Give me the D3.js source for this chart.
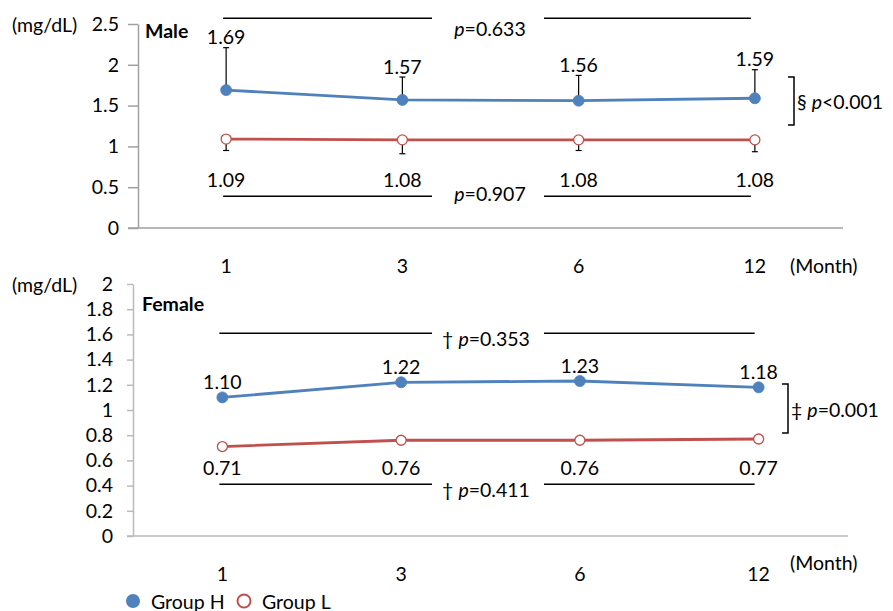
<!DOCTYPE html>
<html>
<head>
<meta charset="utf-8">
<script src="https://cdn.jsdelivr.net/npm/d3@7"></script>
<style>
  body { margin: 0; background: #fff; }
  svg { font-family: Lato, "Open Sans", sans-serif; }
</style>
</head>
<body>
<svg id="chart"></svg>
<script>
// data
const months = ['1', '3', '6', '12'];
const maleH = [1.69, 1.57, 1.56, 1.59];
const maleL = [1.09, 1.08, 1.08, 1.08];
const maleHErrTop = [2.21, 1.85, 1.87, 1.94];
const maleLErrBottom = [0.95, 0.91, 0.95, 0.935];
const femaleH = [1.10, 1.22, 1.23, 1.18];
const femaleL = [0.71, 0.76, 0.76, 0.77];
const maleTicks = [0, 0.5, 1, 1.5, 2, 2.5];
const femaleTicks = [0, 0.2, 0.4, 0.6, 0.8, 1, 1.2, 1.4, 1.6, 1.8, 2];
const maleP = { top: 'p=0.633', bottom: 'p=0.907', side: 'p<0.001', sideMark: '§ ' };
const femaleP = { top: 'p=0.353', bottom: 'p=0.411', side: 'p=0.001', sideMark: '‡ ', mark: '† ' };

const width = 893, height = 611;
const blue = '#4F81BD', red = '#C0504D';
const fs = 19.5;

const svg = d3.select('#chart').attr('width', width).attr('height', height);

function pText(g, x, y, prefix, txt, anchor) {
  const t = g.append('text')
    .attr('x', x).attr('y', y)
    .attr('text-anchor', anchor || 'middle')
    .attr('dominant-baseline', 'central')
    .attr('font-size', fs);
  if (prefix) t.append('tspan').text(prefix);
  t.append('tspan').attr('font-style', 'italic').text('p');
  t.append('tspan').text(txt.slice(1));
}

function panel(opts) {
  const { x, y, ticks, tickFmt, tickSize, tickPad, axisColor } = opts;
  const g = svg.append('g');
  const x0 = x.range()[0], x1 = x.range()[1];

  // y axis
  const yAx = g.append('g')
    .attr('transform', `translate(${x0},0)`)
    .call(d3.axisLeft(y).tickValues(ticks).tickFormat(tickFmt)
      .tickSize(tickSize).tickPadding(tickPad).tickSizeOuter(0));
  yAx.select('.domain').attr('stroke', axisColor).attr('stroke-width', 1.5);
  yAx.selectAll('.tick line').attr('stroke', axisColor).attr('stroke-width', 1.5);
  yAx.selectAll('.tick text').attr('font-size', fs).attr('font-family', 'Lato').attr('fill', '#000');

  // x baseline
  g.append('line')
    .attr('x1', x0 - tickSize).attr('x2', x1)
    .attr('y1', y(0)).attr('y2', y(0))
    .attr('stroke', axisColor).attr('stroke-width', 1.5);

  // x labels
  g.selectAll('.xl').data(months).join('text')
    .attr('x', d => x(d)).attr('y', opts.xLabelY)
    .attr('text-anchor', 'middle').attr('dominant-baseline', 'central')
    .attr('font-size', fs).text(d => d);
  g.append('text').attr('x', 790).attr('y', opts.monthY)
    .attr('dominant-baseline', 'central').attr('font-size', fs).text('(Month)');
  g.append('text').attr('x', 12).attr('y', y(ticks[ticks.length - 1]))
    .attr('dominant-baseline', 'central').attr('font-size', fs).text('(mg/dL)');
  g.append('text').attr('x', opts.titleX).attr('y', opts.titleY)
    .attr('dominant-baseline', 'central').attr('font-size', fs)
    .attr('font-weight', 'bold').text(opts.title);

  // p-value lines
  const pl = [months[0], months[3]];
  [['top', opts.pLineTop, opts.pTextTop], ['bottom', opts.pLineBottom, opts.pTextBottom]].forEach(([k, v, ty]) => {
    const ly = y(v);
    g.append('line').attr('x1', x(pl[0]) - 3).attr('x2', 432).attr('y1', ly).attr('y2', ly)
      .attr('stroke', '#000').attr('stroke-width', 1.5);
    g.append('line').attr('x1', 544).attr('x2', x(pl[1]) - 4).attr('y1', ly).attr('y2', ly)
      .attr('stroke', '#000').attr('stroke-width', 1.5);
    pText(g, opts.pTextX, ty, opts.p.mark, opts.p[k]);
  });

  // side bracket
  const bx = opts.bracketX;
  g.append('path')
    .attr('d', `M${bx - 6},${opts.bracketTop}H${bx}V${opts.bracketBottom}H${bx - 6}`)
    .attr('fill', 'none').attr('stroke', '#000').attr('stroke-width', 1.5);
  pText(g, bx + 3, (opts.bracketTop + opts.bracketBottom) / 2, opts.p.sideMark, opts.p.side, 'start');

  // error bars
  if (opts.errTop) {
    [[opts.H, opts.errTop], [opts.L, opts.errBottom]].forEach(([vals, errs]) => {
      months.forEach((m, i) => {
        const cx = x(m);
        g.append('line').attr('x1', cx).attr('x2', cx)
          .attr('y1', y(vals[i])).attr('y2', y(errs[i]))
          .attr('stroke', '#000').attr('stroke-width', 1.2);
        g.append('line').attr('x1', cx - 3).attr('x2', cx + 3)
          .attr('y1', y(errs[i])).attr('y2', y(errs[i]))
          .attr('stroke', '#000').attr('stroke-width', 1.2);
      });
    });
  }

  const line = d3.line().x((d, i) => x(months[i])).y(d => y(d));
  g.append('path').datum(opts.H).attr('d', line)
    .attr('fill', 'none').attr('stroke', blue).attr('stroke-width', 2.8);
  g.append('path').datum(opts.L).attr('d', line)
    .attr('fill', 'none').attr('stroke', red).attr('stroke-width', 2.8);

  g.selectAll('.ph').data(opts.H).join('circle')
    .attr('cx', (d, i) => x(months[i])).attr('cy', d => y(d)).attr('r', 5.5)
    .attr('fill', blue).attr('stroke', blue).attr('stroke-width', 0.8);
  g.selectAll('.pl').data(opts.L).join('circle')
    .attr('cx', (d, i) => x(months[i])).attr('cy', d => y(d)).attr('r', 5)
    .attr('fill', '#fff').attr('stroke', red).attr('stroke-width', 1.3);

  // data labels
  g.selectAll('.lh').data(opts.H).join('text')
    .attr('x', (d, i) => x(months[i]))
    .attr('y', (d, i) => opts.hLabelY(d, i))
    .attr('text-anchor', 'middle').attr('dominant-baseline', 'central')
    .attr('font-size', fs).text(d => d.toFixed(2));
  g.selectAll('.ll').data(opts.L).join('text')
    .attr('x', (d, i) => x(months[i]))
    .attr('y', opts.lLabelY)
    .attr('text-anchor', 'middle').attr('dominant-baseline', 'central')
    .attr('font-size', fs).text(d => d.toFixed(2));
}

// Male panel
const xM = d3.scalePoint().domain(months).range([138, 843]).padding(0.5);
const yM = d3.scaleLinear().domain([0, 2.5]).range([228, 24]);
panel({
  x: xM, y: yM, ticks: maleTicks, tickFmt: d => String(d),
  tickSize: 10, tickPad: 9, axisColor: '#A0A0A0',
  xLabelY: 265, monthY: 265, title: 'Male', titleX: 145, titleY: 30,
  H: maleH, L: maleL, errTop: maleHErrTop, errBottom: maleLErrBottom,
  hLabelY: (d, i) => yM(maleHErrTop[i]) - 11,
  lLabelY: yM(0.59),
  pLineTop: 2.57, pLineBottom: 0.39, pTextTop: 28, pTextBottom: 193, pTextX: 490,
  p: maleP, bracketX: 794, bracketTop: 77, bracketBottom: 125
});

// Female panel
const xF = d3.scalePoint().domain(months).range([133, 848]).padding(0.5);
const yF = d3.scaleLinear().domain([0, 2]).range([536, 284]);
panel({
  x: xF, y: yF, ticks: femaleTicks, tickFmt: d => String(+d.toFixed(1)),
  tickSize: 6, tickPad: 14, axisColor: '#BABABA',
  xLabelY: 573, monthY: 562, title: 'Female', titleX: 142, titleY: 303,
  H: femaleH, L: femaleL,
  hLabelY: (d) => yF(d) - 16,
  lLabelY: yF(0.545),
  pLineTop: 1.61, pLineBottom: 0.41, pTextTop: 338, pTextBottom: 489, pTextX: 486,
  p: femaleP, bracketX: 788, bracketTop: 384, bracketBottom: 433
});

// legend
const leg = svg.append('g');
leg.append('circle').attr('cx', 133).attr('cy', 601).attr('r', 7).attr('fill', blue);
leg.append('text').attr('x', 151).attr('y', 601).attr('dominant-baseline', 'central')
  .attr('font-size', fs).text('Group H');
leg.append('circle').attr('cx', 244).attr('cy', 601).attr('r', 6.5)
  .attr('fill', '#fff').attr('stroke', red).attr('stroke-width', 2);
leg.append('text').attr('x', 262).attr('y', 601).attr('dominant-baseline', 'central')
  .attr('font-size', fs).text('Group L');
</script>
</body>
</html>
